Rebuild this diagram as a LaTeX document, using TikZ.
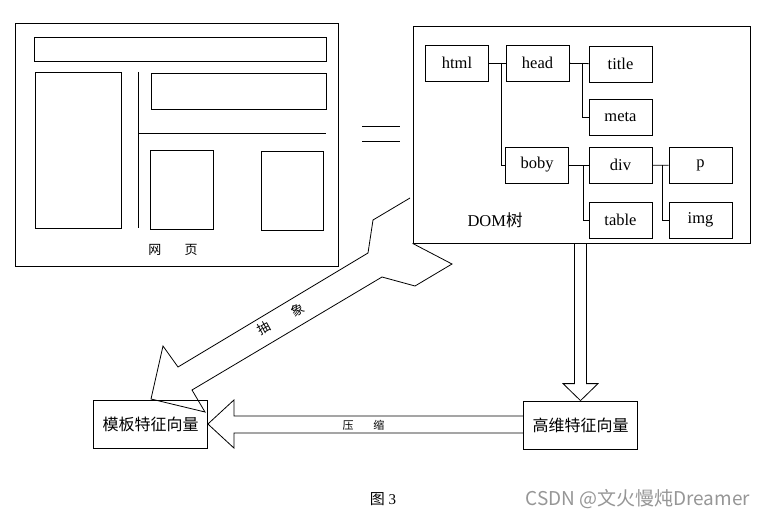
\documentclass[tikz,border=0pt]{standalone}
\usepackage{fontspec}
\setmainfont{Liberation Serif}
\newfontfamily\cjk{Noto Sans CJK SC}
\usetikzlibrary{positioning, calc}
\definecolor{markgray}{RGB}{150,150,150}
\tikzset{
  pane/.style={draw, line width=0.8pt},
  tag/.style={pane, minimum width=63pt, minimum height=36pt, inner sep=0pt, font=\fontsize{16.5}{18}\selectfont},
  vecbox/.style={pane, minimum width=114pt, minimum height=48pt, inner sep=0pt, font=\cjk\fontsize{16}{18}\selectfont},
  hollow/.style={line width=0.8pt, line join=miter},
}

\begin{document}
\begin{tikzpicture}[x=1pt,y=-1pt]
                \useasboundingbox (0,0) rectangle (765,516);
                % Draw the web page layout
                \node[pane, minimum width=323pt, minimum height=243pt] (page) at (176.5,144.5) {};
                \draw[pane] (34,37) rectangle (326,61);
                \draw[pane] (35,72) rectangle (121,228);
                \draw[pane] (151,73) rectangle (326,109);
                \draw[pane] (150,150) rectangle (213,229);
                \draw[pane] (261,151) rectangle (323,230);
                \draw[pane] (138,72) -- (138,228);
                \draw[pane] (138,133) -- (326,133);
                \node[font=\cjk\fontsize{13}{15}\selectfont] (pagelbl) at (173,250) {网\hspace{1.8em}页};
                
                \draw[pane] (362,126) -- (400,126);
                \draw[pane] (362,141) -- (400,141);
                
                % Draw the DOM tree
                \node[pane, minimum width=337pt, minimum height=217pt] (dom) at (581.5,134.5) {};
                \node[tag] (html) at (457,63) {html};
                \node[tag] (head) at (537.5,63) {head};
                \node[tag] (title) at (620.5,64) {title};
                \node[tag] (meta) at (620.5,117) {meta};
                \node[tag] (boby) at (537,165) {boby};
                \node[tag] (div) at (620.5,165) {div};
                \node[tag] (p) at (700.5,165.5) {p};
                \node[tag] (table) at (620.5,220) {table};
                \node[tag] (img) at (700.5,220) {img};
                \draw[pane] (html) -- (head);
                \draw[pane] (html.east) ++(12,0) |- (boby);
                \draw[pane] (head) -- (title);
                \draw[pane] (head.east) ++(13,0) |- (meta);
                \draw[pane] (boby) -- (div);
                \draw[pane] (boby.east) ++(14,0) |- (table);
                \draw[pane] (div) -- (p);
                \draw[pane] (div.east) ++(10,0) |- (img);
                \node[font=\fontsize{16.5}{18}\selectfont] (domlbl) at (495,220) {DOM{\cjk 树}};
                
                % Draw the feature vectors and the hollow arrows
                \node[vecbox] (tmpl) at (150.5,424) {模板特征向量};
                \node[vecbox] (hivec) at (580.5,425) {高维特征向量};
                \draw[hollow] (hivec.north) -- ++(-17.5,-17) -- ++(11.5,0) coordinate (v1) -- (v1 |- dom.south);
                \draw[hollow] (hivec.north) -- ++(17.5,-17) -- ++(-11.5,0) coordinate (v2) -- (v2 |- dom.south);
                \draw[hollow] (tmpl.east) -- ++(26,-24) -- ++(0,16) coordinate (h1) -- (h1 -| hivec.west);
                \draw[hollow] (tmpl.east) -- ++(26,24) -- ++(0,-15) coordinate (h2) -- (h2 -| hivec.west);
                \node[font=\cjk\fontsize{11}{13}\selectfont] (cmplbl) at (363.5,425) {压\hspace{1.8em}缩};
                \draw[hollow] (410,198) -- (373,220) -- (368,253) -- (178,367) -- (163,346) -- (151,399) -- (205,412)
                  -- (192,390) -- (382,277) -- (415,286) -- (452,264) -- (dom.south west);
                \node[font=\cjk\fontsize{13}{15}\selectfont, rotate=29] (abslbl) at (280.5,319) {抽\hspace{2em}象};
                
                \node[font=\fontsize{15}{17}\selectfont] (cap) at (383,499) {{\cjk 图} 3};
                \node[font=\cjk\fontsize{19}{22}\selectfont, text=markgray, anchor=west] (mark) at (522,499) {CSDN @文火慢炖Dreamer};
            \end{tikzpicture}
\end{document}
